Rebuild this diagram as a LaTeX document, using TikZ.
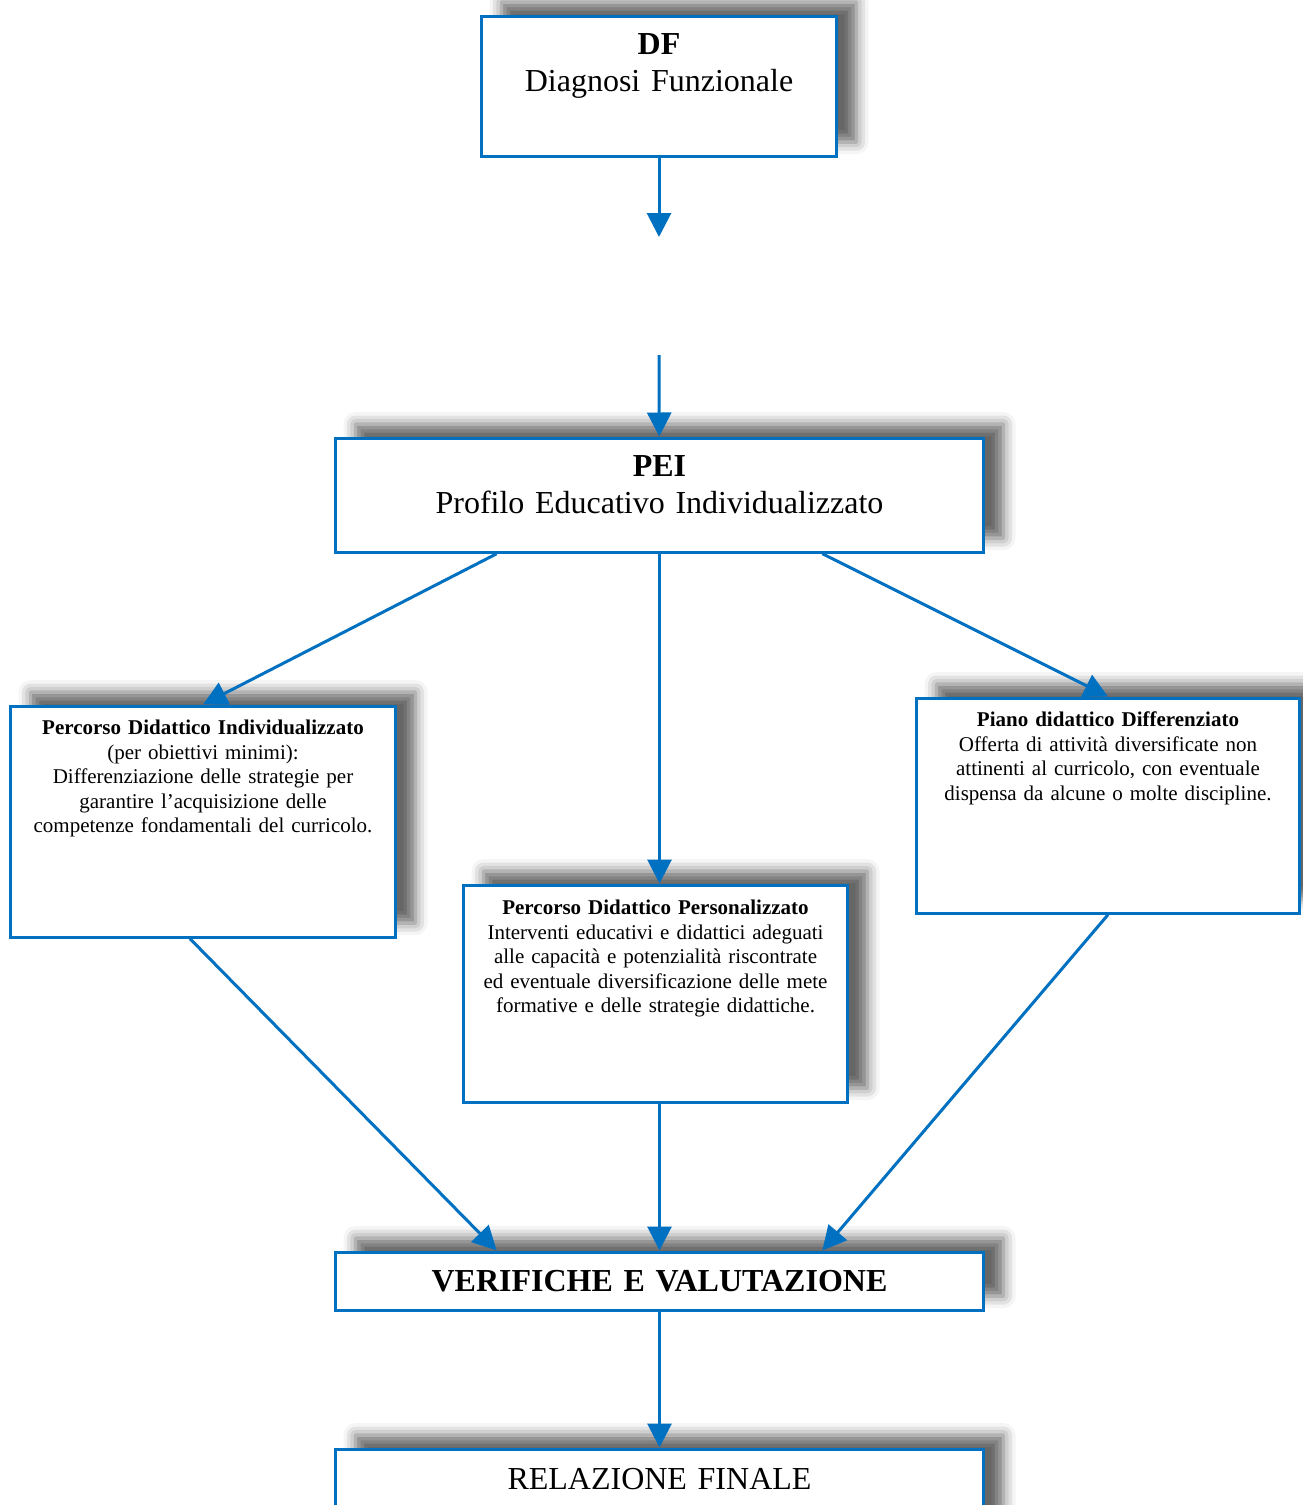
\documentclass[tikz,border=0pt]{standalone}
\usepackage{fontspec}
\setmainfont{Liberation Serif}
\usepackage{tikz}
\usetikzlibrary{arrows.meta,calc,shadows.blur}
\definecolor{boxblue}{HTML}{0070C0}
\tikzstyle{blue box}=[
    draw = boxblue,
    line width = 1.6pt,
    fill = white,
    inner sep = 0pt,
    align = center,
    anchor = north,
    blur shadow = {shadow xshift=10pt, shadow yshift=7pt, shadow blur radius=6pt, shadow opacity=60}
]
\tikzstyle{big text}=[font=\fontsize{16}{18.5}\selectfont]
\tikzstyle{small text}=[font=\fontsize{10.5}{12.25}\selectfont]
\tikzstyle{flow}=[
    draw = boxblue,
    line width = 1.5pt,
    -{Triangle[width=12pt,length=12pt]}
]

\begin{document}
\begin{tikzpicture}[x=0.5pt, y=-0.5pt]
        \useasboundingbox (0,0) rectangle (1302,1505);

        \node[blue box, big text, text width=177.5pt, text height=19.25pt, text depth=50.75pt] (df) at (659,14.5) {\textbf{DF}\\Diagnosi Funzionale};
        \coordinate (df-out) at (659,237);
        \coordinate (pei-in) at (659,355);
        \node[blue box, big text, text width=324pt, text height=19.25pt, text depth=37.75pt] (pei) at (659.5,436.5) {\textbf{PEI}\\Profilo Educativo Individualizzato};

        \node[blue box, small text, text width=192.5pt, text height=14.25pt, text depth=101.25pt] (pdi) at (203,704.5) {\textbf{Percorso Didattico Individualizzato}\\(per obiettivi minimi):\\Differenziazione delle strategie per\\garantire l’acquisizione delle\\competenze fondamentali del curricolo.};
        \node[blue box, small text, text width=192pt, text height=14.75pt, text depth=93.75pt] (pdp) at (655.5,883.5) {\textbf{Percorso Didattico Personalizzato}\\Interventi educativi e didattici adeguati\\alle capacità e potenzialità riscontrate\\ed eventuale diversificazione delle mete\\formative e delle strategie didattiche.};
        \node[blue box, small text, text width=191.5pt, text height=14.25pt, text depth=93.25pt] (pdd) at (1108,696.5) {\textbf{Piano didattico Differenziato}\\Offerta di attività diversificate non\\attinenti al curricolo, con eventuale\\dispensa da alcune o molte discipline.};

        \node[blue box, big text, text width=324pt, text height=19.75pt, text depth=9.25pt] (ver) at (659.5,1250.5) {\textbf{VERIFICHE E VALUTAZIONE}};
        \node[blue box, big text, text width=324pt, text height=20.25pt, text depth=35.75pt] (rel) at (659.5,1447.5) {RELAZIONE FINALE};

        \draw[flow] (df) -- (df-out);
        \draw[flow] (pei-in) -- (pei);
        \draw[flow] ($(pei.south west)!0.25!(pei.south east)$) -- (pdi.north);
        \draw[flow] (pei.south) -- (pei.south |- pdp.north);
        \draw[flow] ($(pei.south west)!0.75!(pei.south east)$) -- (pdd.north);
        \draw[flow] ([xshift=-6.5pt]pdi.south) -- ($(ver.north west)!0.25!(ver.north east)$);
        \draw[flow] (pdp.south -| ver.north) -- (ver.north);
        \draw[flow] (pdd.south) -- ($(ver.north west)!0.75!(ver.north east)$);
        \draw[flow] (ver) -- (rel);

    \end{tikzpicture}
\end{document}
